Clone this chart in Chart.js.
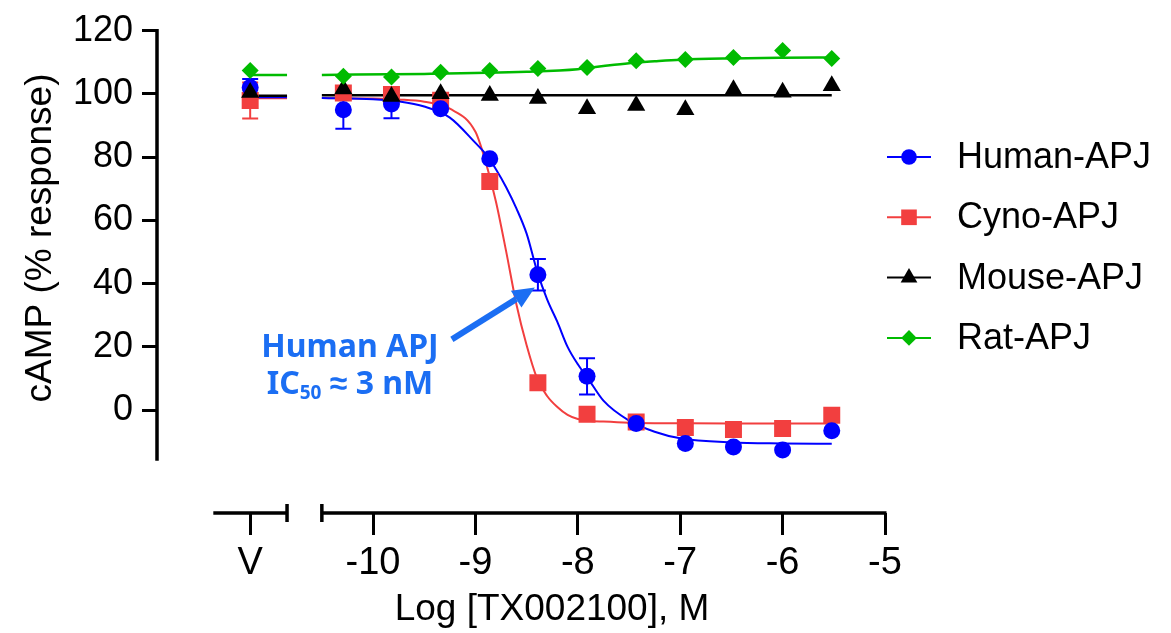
<!DOCTYPE html>
<html>
<head>
<meta charset="utf-8">
<title>cAMP response to TX002100</title>
<script src="https://cdn.jsdelivr.net/npm/chart.js@4.4.1/dist/chart.umd.min.js"></script>
<style>
  html, body { margin: 0; padding: 0; background: #fff; }
  #chart { display: block; }
</style>
</head>
<body>
<canvas id="chart" width="1171" height="633"></canvas>
<script>
// x: log molar concentration; the vehicle point sits left of the axis break
const vehicleX = -11.2;
const logConc = [-10.29, -9.82, -9.34, -8.86, -8.39, -7.91, -7.43, -6.95, -6.48, -6.00, -5.52];

// means (% response), first value = vehicle
const humanMean = [102.0, 95.0, 96.8, 95.3, 79.5, 42.8, 10.7, -4.2, -10.5, -11.6, -12.6, -6.5];
const humanSem  = [2.7, 6.0, 4.5, 0, 0, 5.0, 5.7, 0, 0, 0, 0, 0];
const cynoMean  = [97.9, 100.3, 99.8, 98.0, 72.3, 8.7, -1.3, -3.7, -5.5, -6.1, -5.8, -1.6];
const cynoSem   = [5.7, 0, 0, 0, 0, 0, 0, 0, 0, 0, 0, 0];
const mouseMean = [100.4, 101.5, 99.2, 100.0, 99.5, 98.5, 95.3, 96.3, 95.0, 101.3, 100.5, 102.6];
const ratMean   = [107.4, 105.6, 105.3, 106.8, 107.4, 108.0, 108.3, 110.5, 110.9, 111.5, 113.7, 111.2];

// fitted curves
const fitX      = [-10.5, -10.0, -9.75, -9.5, -9.25, -9.0, -8.9, -8.8, -8.7, -8.6, -8.5, -8.4, -8.3, -8.2, -8.1, -8.0, -7.9, -7.75, -7.5, -7.25, -7.0, -6.5, -6.0, -5.52];
const humanFitY = [98.7, 98.3, 97.6, 96.0, 92.5, 84.5, 81.0, 76.2, 70.5, 63.8, 55.8, 44.2, 35.0, 27.9, 20.0, 14.5, 10.0, 3.0, -3.3, -6.8, -8.9, -10.2, -10.5, -10.6];
const cynoFitY  = [98.7, 98.5, 98.2, 97.5, 95.3, 88.0, 78.5, 66.0, 50.2, 33.5, 20.5, 10.2, 4.5, 1.0, -1.5, -2.8, -3.3, -3.6, -3.95, -4.1, -4.15, -4.2, -4.2, -4.2];
const ratFitX   = [-10.5, -9.5, -8.5, -8.0, -7.75, -7.5, -7.25, -7.0, -6.5, -6.0, -5.52];
const ratFitY   = [106.0, 106.3, 107.0, 107.8, 108.8, 109.7, 110.3, 110.8, 111.2, 111.4, 111.5];
const mouseFitX = [-10.5, -5.52];
const mouseFitY = [99.6, 99.6];
// curve level across the vehicle segment
const vehicleFit = { human: 98.9, cyno: 98.6, mouse: 99.4, rat: 106.0 };

// axes
const xTicks = [vehicleX, -10, -9, -8, -7, -6, -5];
const yTicks = [0, 20, 40, 60, 80, 100, 120];
const xBreak = [-10.84, -10.5];
const xAxisStart = -11.56;
const yAxisBottom = -16;

const BLUE = '#0000ff', RED = '#f23f3f', BLACK = '#000000', GREEN = '#00bb00';
const NOTE = '#1b6ef3';
const FONT = '"Liberation Sans", Arial, sans-serif';

// annotation (data units)
const noteText = { x: -10.225, y: 16.7 };
const noteArrow = { x0: -9.23, y0: 22.4, x1: -8.42, y1: 38.8 };

function pts(xs, ys) {
  return xs.map((x, i) => ({ x: x, y: ys[i] }));
}

function curve(label, color, vLevel, xs, ys, width, order) {
  const data = [{ x: vehicleX, y: vLevel }, { x: xBreak[0], y: vLevel }, { x: (xBreak[0] + xBreak[1]) / 2, y: null }]
    .concat(pts(xs, ys));
  return {
    type: 'line', label: label, data: data, borderColor: color, borderWidth: width,
    pointRadius: 0, fill: false, spanGaps: false, cubicInterpolationMode: 'monotone', order: order
  };
}

function markers(label, color, ys, style, radius, order, sem) {
  return {
    type: 'scatter', label: label, data: pts([vehicleX].concat(logConc), ys),
    pointStyle: style, pointRadius: radius, backgroundColor: color, borderColor: color,
    borderWidth: 0, order: order, sem: sem, legendItem: true
  };
}

const allX = [vehicleX].concat(logConc);

const errorBars = {
  id: 'errorBars',
  beforeDatasetsDraw(chart) {
    const { ctx, scales: { x, y } } = chart;
    ctx.save();
    ctx.lineWidth = 2;
    chart.data.datasets.forEach(ds => {
      if (!ds.sem) return;
      ctx.strokeStyle = ds.borderColor;
      ds.sem.forEach((s, i) => {
        if (!s) return;
        const px = x.getPixelForValue(allX[i]);
        const top = y.getPixelForValue(ds.data[i].y + s);
        const bot = y.getPixelForValue(ds.data[i].y - s);
        ctx.beginPath();
        ctx.moveTo(px, top); ctx.lineTo(px, bot);
        ctx.moveTo(px - 8, top); ctx.lineTo(px + 8, top);
        ctx.moveTo(px - 8, bot); ctx.lineTo(px + 8, bot);
        ctx.stroke();
      });
    });
    ctx.restore();
  }
};

const axisLines = {
  id: 'axisLines',
  afterDraw(chart) {
    const { ctx, chartArea, scales: { x, y } } = chart;
    const by = chartArea.bottom;
    ctx.save();
    ctx.strokeStyle = '#000';
    ctx.lineWidth = 3.5;
    ctx.beginPath();
    // y axis
    ctx.moveTo(chartArea.left, y.getPixelForValue(yTicks[yTicks.length - 1]) - 1.5);
    ctx.lineTo(chartArea.left, y.getPixelForValue(yAxisBottom));
    // broken x axis
    const a = x.getPixelForValue(xAxisStart), b = x.getPixelForValue(xBreak[0]);
    const c = x.getPixelForValue(xBreak[1]), d = x.getPixelForValue(xTicks[xTicks.length - 1]);
    ctx.moveTo(a, by); ctx.lineTo(b, by);
    ctx.moveTo(b, by - 9); ctx.lineTo(b, by + 9);
    ctx.moveTo(c, by - 9); ctx.lineTo(c, by + 9);
    ctx.moveTo(c, by); ctx.lineTo(d + 1.5, by);
    ctx.stroke();

    // axis titles
    ctx.fillStyle = '#000';
    ctx.font = '37px ' + FONT;
    ctx.textAlign = 'center';
    ctx.textBaseline = 'alphabetic';
    ctx.fillText('Log [TX002100], M', 552, 620);
    ctx.translate(51, 238);
    ctx.rotate(-Math.PI / 2);
    ctx.fillText('cAMP (% response)', 0, 0);
    ctx.restore();
  }
};

const sideLegend = {
  id: 'sideLegend',
  afterDraw(chart) {
    const { ctx, chartArea } = chart;
    const items = chart.data.datasets.filter(ds => ds.legendItem);
    const x0 = chartArea.right + 2, x1 = x0 + 44, xm = (x0 + x1) / 2;
    ctx.save();
    ctx.font = '36px ' + FONT;
    ctx.textBaseline = 'middle';
    ctx.textAlign = 'left';
    items.forEach((ds, i) => {
      const yy = 157 + i * 60.3;
      ctx.strokeStyle = ds.borderColor;
      ctx.lineWidth = 2;
      ctx.beginPath();
      ctx.moveTo(x0, yy); ctx.lineTo(x1, yy);
      ctx.stroke();
      ctx.fillStyle = ds.backgroundColor;
      if (Chart.helpers && Chart.helpers.drawPoint) {
        Chart.helpers.drawPoint(ctx, { pointStyle: ds.pointStyle, radius: ds.pointRadius * 0.92, rotation: 0, borderWidth: 0 }, xm, yy);
      } else {
        ctx.fillRect(xm - 7, yy - 7, 14, 14);
      }
      ctx.fillStyle = '#000';
      ctx.fillText(ds.label, chartArea.right + 72, yy + 1);
    });
    ctx.restore();
  }
};

const note = {
  id: 'note',
  afterDatasetsDraw(chart) {
    const { ctx, scales: { x, y } } = chart;
    ctx.save();
    // arrow
    const ax0 = x.getPixelForValue(noteArrow.x0), ay0 = y.getPixelForValue(noteArrow.y0);
    const ax1 = x.getPixelForValue(noteArrow.x1), ay1 = y.getPixelForValue(noteArrow.y1);
    const ang = Math.atan2(ay1 - ay0, ax1 - ax0);
    const headLen = 22, headHalf = 10;
    const bx = ax1 - Math.cos(ang) * headLen, by = ay1 - Math.sin(ang) * headLen;
    ctx.strokeStyle = NOTE;
    ctx.fillStyle = NOTE;
    ctx.lineWidth = 6;
    ctx.beginPath();
    ctx.moveTo(ax0, ay0); ctx.lineTo(bx, by);
    ctx.stroke();
    ctx.beginPath();
    ctx.moveTo(ax1, ay1);
    ctx.lineTo(bx + Math.sin(ang) * headHalf, by - Math.cos(ang) * headHalf);
    ctx.lineTo(bx - Math.sin(ang) * headHalf, by + Math.cos(ang) * headHalf);
    ctx.closePath();
    ctx.fill();

    // text
    const cx = x.getPixelForValue(noteText.x), base = y.getPixelForValue(noteText.y);
    const big = 'bold 32px "Noto Sans", sans-serif', small = 'bold 19px "Noto Sans", sans-serif';
    ctx.textBaseline = 'alphabetic';
    ctx.textAlign = 'center';
    ctx.font = big;
    ctx.fillText('Human APJ', cx, base);
    ctx.textAlign = 'left';
    const w1 = ctx.measureText('IC').width, w3 = ctx.measureText(' \u2248 3 nM').width;
    ctx.font = small;
    const w2 = ctx.measureText('50').width;
    let sx = cx - (w1 + w2 + w3) / 2;
    const base2 = base + 37;
    ctx.font = big;
    ctx.fillText('IC', sx, base2);
    ctx.font = small;
    ctx.fillText('50', sx + w1, base2 + 5);
    ctx.font = big;
    ctx.fillText(' \u2248 3 nM', sx + w1 + w2, base2);
    ctx.restore();
  }
};

new Chart(document.getElementById('chart'), {
  type: 'scatter',
  data: {
    datasets: [
      markers('Human-APJ', BLUE, humanMean, 'circle', 8.5, 3, humanSem),
      markers('Cyno-APJ', RED, cynoMean, 'rect', 12, 4, cynoSem),
      markers('Mouse-APJ', BLACK, mouseMean, 'triangle', 10.5, 2, null),
      markers('Rat-APJ', GREEN, ratMean, 'rectRot', 8.5, 1, null),
      curve('Human fit', BLUE, vehicleFit.human, fitX, humanFitY, 2, 7),
      curve('Cyno fit', RED, vehicleFit.cyno, fitX, cynoFitY, 2, 8),
      curve('Mouse fit', BLACK, vehicleFit.mouse, mouseFitX, mouseFitY, 2.5, 6),
      curve('Rat fit', GREEN, vehicleFit.rat, ratFitX, ratFitY, 2.5, 5)
    ]
  },
  options: {
    responsive: false,
    animation: false,
    events: [],
    layout: { padding: { top: 30, right: 286, left: 0, bottom: 0 } },
    plugins: { legend: { display: false }, tooltip: { enabled: false } },
    scales: {
      x: {
        type: 'linear', min: -12.11, max: -5,
        afterBuildTicks: s => { s.ticks = xTicks.map(v => ({ value: v })); },
        afterFit: s => { s.height = 120; },
        grid: { drawOnChartArea: false, drawTicks: true, tickLength: 22, tickWidth: 3, tickColor: '#000' },
        border: { display: false },
        ticks: {
          color: '#000', font: { family: FONT, size: 38 }, padding: 6,
          autoSkip: false, maxRotation: 0,
          callback: v => (v === vehicleX ? 'V' : String(v))
        }
      },
      y: {
        type: 'linear', min: -32.5, max: 120,
        afterBuildTicks: s => { s.ticks = yTicks.map(v => ({ value: v })); },
        afterFit: s => { s.width = 157; },
        grid: { drawOnChartArea: false, drawTicks: true, tickLength: 15, tickWidth: 3, tickColor: '#000' },
        border: { display: false },
        ticks: { color: '#000', font: { family: FONT, size: 36 }, padding: 9 }
      }
    }
  },
  plugins: [errorBars, axisLines, sideLegend, note]
});
</script>
</body>
</html>
